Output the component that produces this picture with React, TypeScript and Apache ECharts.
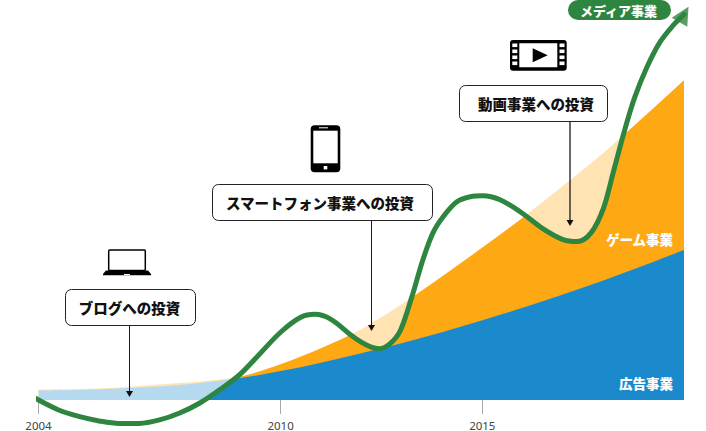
import React, { useEffect, useRef } from "react";
import * as echarts from "echarts";

const tickYears = [2004, 2010, 2015];
const years = [2004, 2005, 2006, 2007, 2008, 2009, 2010, 2011, 2012, 2013, 2014, 2015, 2016, 2017, 2018, 2019, 2020];
const adValues = [9.5, 10, 11.5, 13.5, 17, 22, 29, 37.5, 47, 57, 68, 80, 92.5, 106, 120, 135, 150.5];
const gameValues = [10.5, 11, 12.5, 15.5, 18.5, 23.5, 36, 52, 71, 96, 124, 153, 183, 215, 248, 284, 321];
const mediaYears = [2003.91, 2004.5, 2005, 2005.5, 2006, 2006.5, 2007, 2007.5, 2008, 2008.5, 2009, 2009.5, 2010, 2010.5, 2010.85, 2011.25, 2011.75, 2012, 2012.25, 2012.45, 2012.7, 2012.96, 2013.25, 2013.53, 2013.78, 2014.03, 2014.37, 2014.7, 2015.02, 2015.44, 2015.94, 2016.5, 2017, 2017.35, 2017.7, 2018, 2018.25, 2018.53, 2018.78, 2019.08, 2019.4, 2019.73, 2020];
const mediaValues = [2, -10, -16.5, -21, -23.5, -23.5, -20, -13, -3, 10.5, 26, 47, 68, 83, 86, 81, 65, 58, 53, 51.5, 56, 69, 103, 141, 168, 184, 199, 204, 205, 201, 189, 172, 161, 159, 168, 192, 229, 271, 304, 334, 359, 376, 387];
const seriesLabels = { media: "メディア事業", game: "ゲーム事業", ad: "広告事業" };
const callouts = ["ブログへの投資", "スマートフォン事業への投資", "動画事業への投資"];

const JP = '"Noto Sans CJK JP", "Noto Sans", sans-serif';
const GREEN = "#2e8540";

function arrow(x: number, y1: number, y2: number, w = 1) {
  return [
    { type: "line", z: 50, shape: { x1: x, y1, x2: x, y2: y2 - 4 }, style: { stroke: "#1a1a1a", lineWidth: w } },
    { type: "polygon", z: 50, shape: { points: [[x - 3.5, y2 - 6], [x + 3.5, y2 - 6], [x, y2]] }, style: { fill: "#111" } },
  ];
}
function box(x: number, y: number, w: number, h: number, text: string, cx: number) {
  return [
    { type: "rect", z: 50, shape: { x: x + 0.5, y: y + 0.5, width: w, height: h, r: 6 }, style: { fill: "#fff", stroke: "#222", lineWidth: 1 } },
    { type: "text", z: 51, x: cx, y: y + h / 2 + 0.5, style: { text, fill: "#111", font: `900 14.5px ${JP}`, textAlign: "center", textVerticalAlign: "middle" } },
  ];
}
function whiteLabel(x: number, y: number, text: string, size: number) {
  return { type: "text", z: 51, x, y, style: { text, fill: "#fff", font: `900 ${size}px ${JP}`, textAlign: "right", textVerticalAlign: "middle" } };
}

const laptop = [
  { type: "rect", z: 50, shape: { x: 108.7, y: 250, width: 36.6, height: 20.5, r: 1 }, style: { fill: "#fff", stroke: "#000", lineWidth: 1.5 } },
  { type: "polygon", z: 50, shape: { points: [[106, 270.5], [148, 270.5], [151, 274], [151, 275.3], [103, 275.3], [103, 274]] }, style: { fill: "#000" } },
  { type: "rect", z: 51, shape: { x: 124, y: 274, width: 6, height: 1 }, style: { fill: "#fff" } },
];
const phone = [
  { type: "rect", z: 50, shape: { x: 310.7, y: 125.3, width: 29.6, height: 47, r: 4 }, style: { fill: "#000" } },
  { type: "rect", z: 51, shape: { x: 313.3, y: 130.7, width: 24.4, height: 32.6 }, style: { fill: "#fff" } },
  { type: "rect", z: 51, shape: { x: 323.7, y: 166, width: 3.6, height: 3.4 }, style: { fill: "#fff" } },
  { type: "rect", z: 51, shape: { x: 319, y: 127.3, width: 9, height: 1 }, style: { fill: "#fff" } },
];
const perfY = [43.5, 49.5, 55.5, 61.5];
const film = [
  { type: "rect", z: 50, shape: { x: 510, y: 40, width: 56.7, height: 30.7, r: 3 }, style: { fill: "#000" } },
  { type: "rect", z: 51, shape: { x: 519.3, y: 43.3, width: 38, height: 24 }, style: { fill: "#fff" } },
  { type: "polygon", z: 52, shape: { points: [[532.7, 48.3], [532.7, 62.3], [547.7, 55.3]] }, style: { fill: "#000" } },
  ...perfY.flatMap((y) => [
    { type: "rect", z: 51, shape: { x: 512.3, y, width: 5, height: 3.6 }, style: { fill: "#fff" } },
    { type: "rect", z: 51, shape: { x: 559.5, y, width: 5, height: 3.6 }, style: { fill: "#fff" } },
  ]),
];

export default function App() {
  const ref = useRef<HTMLDivElement>(null);
  useEffect(() => {
    const chart = echarts.init(ref.current!, undefined, { renderer: "svg" });
    const media = mediaYears.map((y, i) => [y, mediaValues[i]]);
    chart.setOption({
      animation: false,
      backgroundColor: "#fff",
      grid: { left: 38.5, right: 22, top: 0.5, bottom: 29.5 },
      xAxis: {
        type: "value",
        min: 2004,
        max: 2020,
        splitLine: { show: false },
        axisLine: { show: false },
        axisTick: { show: true, length: 14, customValues: tickYears, lineStyle: { color: "#aaa", width: 1 } },
        axisLabel: {
          show: true,
          customValues: tickYears,
          margin: 19,
          color: "#444",
          fontSize: 11.5,
          fontFamily: "Noto Sans",
          formatter: (v: number) => String(v),
        },
      },
      yAxis: { type: "value", min: 0, max: 401, show: false, splitLine: { show: false } },
      series: [
        {
          name: seriesLabels.game,
          type: "line",
          z: 1,
          symbol: "none",
          smooth: 0.33,
          lineStyle: { width: 0 },
          areaStyle: { color: "#fea913", opacity: 1 },
          data: years.map((y, i) => [y, gameValues[i]]),
        },
        {
          name: seriesLabels.ad,
          type: "line",
          z: 2,
          symbol: "none",
          smooth: 0.33,
          lineStyle: { width: 0 },
          areaStyle: { color: "#1a8acd", opacity: 1 },
          data: years.map((y, i) => [y, adValues[i]]),
        },
        {
          name: "overlay",
          type: "line",
          z: 3,
          symbol: "none",
          smooth: 0.33,
          clip: true,
          lineStyle: { width: 0 },
          areaStyle: { color: "#fff", opacity: 0.68, origin: "end" },
          data: media,
        },
        {
          name: seriesLabels.media,
          type: "line",
          z: 4,
          symbol: "none",
          smooth: 0.33,
          clip: false,
          lineStyle: { color: GREEN, width: 5, cap: "round" },
          data: media,
        },
        {
          name: "head",
          type: "scatter",
          z: 5,
          clip: false,
          symbol: "triangle",
          symbolSize: [18, 18],
          symbolRotate: -30,
          itemStyle: { color: GREEN },
          data: [[mediaYears[mediaYears.length - 1], mediaValues[mediaValues.length - 1]]],
        },
      ],
      graphic: [
        ...arrow(129.5, 325, 397),
        ...arrow(371.5, 221, 331),
        ...arrow(570, 121, 226, 1.3),
        ...box(65, 289, 130, 36, callouts[0], 129.5),
        ...box(212, 184, 220, 36, callouts[1], 320),
        ...box(459, 85, 148, 36, callouts[2], 536),
        ...laptop,
        ...phone,
        ...film,
        { type: "rect", z: 50, shape: { x: 568, y: 0, width: 103, height: 20, r: 10 }, style: { fill: GREEN } },
        { type: "text", z: 51, x: 618.5, y: 10, style: { text: seriesLabels.media, fill: "#fff", font: `900 13px ${JP}`, textAlign: "center", textVerticalAlign: "middle" } },
        whiteLabel(673, 238.5, seriesLabels.game, 13.5),
        whiteLabel(673, 383, seriesLabels.ad, 13.5),
      ],
    });
    return () => chart.dispose();
  }, []);
  return <div ref={ref} style={{ position: "absolute", left: 0, top: 0, width: 706, height: 431 }} />;
}
